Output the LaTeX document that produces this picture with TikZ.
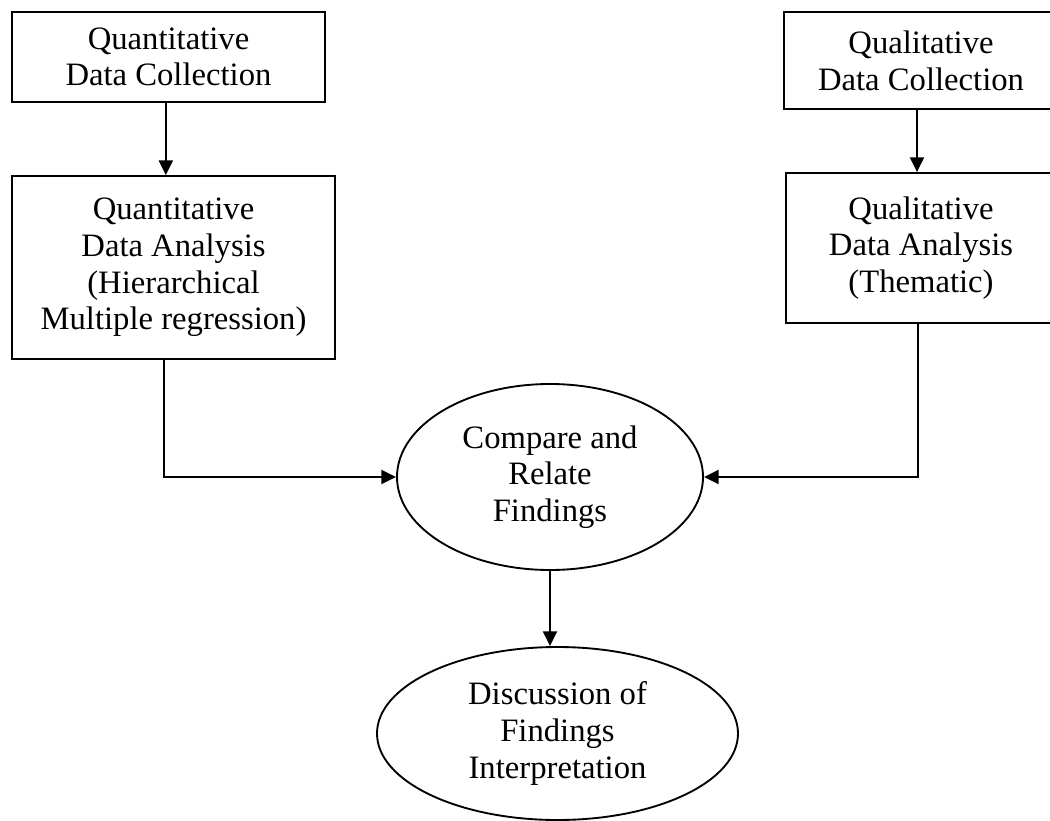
\documentclass[tikz,border=0pt]{standalone}
\usepackage{fontspec}
\setmainfont{Liberation Serif}
\usetikzlibrary{shapes.geometric,arrows.meta}
\begin{document}
\begin{tikzpicture}[x=0.75pt,y=-0.75pt,
  every node/.style={font=\fontsize{24.5pt}{27.5pt}\selectfont, align=center, inner sep=0pt},
  box/.style={draw, line width=1.4pt, rectangle},
  oval/.style={draw, line width=1.4pt, ellipse},
  arr/.style={line width=1.5pt, -{Triangle[length=11pt,width=10.5pt]}}]
\useasboundingbox (0,0) rectangle (1050,821);
\clip (0,0) rectangle (1050,821);
\node[box, minimum width={313*0.75pt}, minimum height={90*0.75pt}] (b1) at (168.5,57) {Quantitative\\Data Collection};
\node[box, minimum width={323*0.75pt}, minimum height={183*0.75pt}] (b2) at (173.5,267.5) {Quantitative\\Data Analysis\\(Hierarchical\\Multiple regression)};
\node[box, minimum width={274*0.75pt}, minimum height={97*0.75pt}] (b3) at (921,60.5) {Qualitative\\Data Collection};
\node[box, minimum width={270*0.75pt}, minimum height={150*0.75pt}] (b4) at (921,248) {Qualitative\\Data Analysis\\(Thematic)};
\node[oval, minimum width={306*0.75pt}, minimum height={186*0.75pt}] (e1) at (550,477) {Compare and\\Relate\\Findings};
\node[oval, minimum width={361*0.75pt}, minimum height={173*0.75pt}] (e2) at (557.5,733.5) {Discussion of\\Findings\\Interpretation};
\draw[arr] ([xshift=-2pt]b1.south) -- ([xshift=-2pt]b1.south |- b2.north);
\draw[arr] ([xshift=-3pt]b3.south) -- ([xshift=-3pt]b3.south |- b4.north);
\draw[arr] ([xshift={-10*0.75pt}]b2.south) |- (e1.west);
\draw[arr] ([xshift={-3*0.75pt}]b4.south) |- (e1.east);
\draw[arr] (e1.south) -- (e1.south |- e2.north);
\end{tikzpicture}
\end{document}
